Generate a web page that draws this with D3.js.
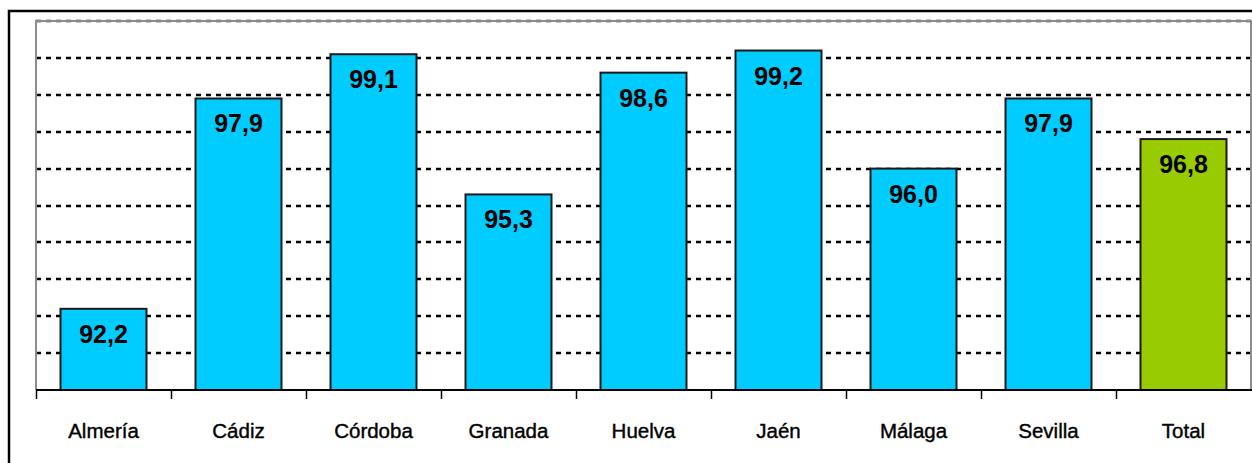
<!DOCTYPE html>
<meta charset="utf-8">
<script src="https://d3js.org/d3.v7.min.js"></script>
<style>
  body { margin: 0; background: #fff; }
  svg { display: block; font-family: Arial, "Liberation Sans", sans-serif; }
</style>
<div id="chart"></div>
<script>
// data
var provinces = ["Almería", "Cádiz", "Córdoba", "Granada", "Huelva", "Jaén", "Málaga", "Sevilla", "Total"];
var values = [92.2, 97.9, 99.1, 95.3, 98.6, 99.2, 96.0, 97.9, 96.8];
var gridTicks = [90, 91, 92, 93, 94, 95, 96, 97, 98, 99, 100];

var W = 1252, H = 463;
var plot = {left: 36, top: 21, right: 1252, bottom: 390};

var svg = d3.select("#chart").append("svg")
    .attr("width", W)
    .attr("height", H);

// outer frame
svg.append("rect")
    .attr("x", 9).attr("y", 11)
    .attr("width", W + 10).attr("height", H + 10)
    .attr("fill", "none")
    .attr("stroke", "#000")
    .attr("stroke-width", 2.5);

var x = d3.scaleBand()
    .domain(provinces)
    .range([plot.left, plot.left + 135 * provinces.length])
    .padding(0);

var y = d3.scaleLinear()
    .domain([90, 100])
    .range([plot.bottom, plot.top]);

// dashed gridlines
svg.append("g")
  .selectAll("line")
  .data(gridTicks.slice(1))
  .join("line")
    .attr("x1", plot.left)
    .attr("x2", plot.right)
    .attr("y1", d => Math.round(y(d)))
    .attr("y2", d => Math.round(y(d)))
    .attr("stroke", "#000")
    .attr("stroke-width", 2.5)
    .attr("stroke-dasharray", "5,5");

// gray plot border (top/left/right)
svg.append("path")
    .attr("d", "M" + plot.left + "," + plot.bottom + "V" + plot.top + "H" + (plot.right - 1) + "V" + plot.bottom)
    .attr("fill", "none")
    .attr("stroke", "#8c8c8c")
    .attr("stroke-width", 2);

// bars
var barW = x.bandwidth() * 0.637;
svg.append("g")
  .selectAll("rect")
  .data(values)
  .join("rect")
    .attr("x", (d, i) => x(provinces[i]) + (x.bandwidth() - barW) / 2)
    .attr("y", d => y(d))
    .attr("width", barW)
    .attr("height", d => plot.bottom - y(d))
    .attr("fill", (d, i) => provinces[i] === "Total" ? "#99cc00" : "#00ccff")
    .attr("stroke", "#1a1a1a")
    .attr("stroke-width", 2);

// value labels
svg.append("g")
  .selectAll("text")
  .data(values)
  .join("text")
    .attr("x", (d, i) => x(provinces[i]) + x.bandwidth() / 2)
    .attr("y", d => y(d) + 34)
    .attr("text-anchor", "middle")
    .attr("font-size", 25)
    .attr("font-weight", "bold")
    .attr("fill", "#000")
    .text(d => d.toFixed(1).replace(".", ","));

// x axis
var xAxis = svg.append("g")
    .attr("transform", "translate(0," + plot.bottom + ")");
xAxis.append("line")
    .attr("x1", plot.left).attr("x2", plot.right)
    .attr("stroke", "#000").attr("stroke-width", 2);
xAxis.selectAll(".tick")
  .data(provinces)
  .join("line")
    .attr("class", "tick")
    .attr("x1", d => Math.round(x(d)) + 0.5)
    .attr("x2", d => Math.round(x(d)) + 0.5)
    .attr("y1", 0).attr("y2", 9)
    .attr("stroke", "#000").attr("stroke-width", 1.5);

// category labels
svg.append("g")
  .selectAll("text")
  .data(provinces)
  .join("text")
    .attr("x", d => x(d) + x.bandwidth() / 2)
    .attr("y", 438)
    .attr("text-anchor", "middle")
    .attr("font-size", 20.5)
    .attr("fill", "#000")
    .attr("stroke", "#000")
    .attr("stroke-width", 0.4)
    .text(d => d);
</script>
